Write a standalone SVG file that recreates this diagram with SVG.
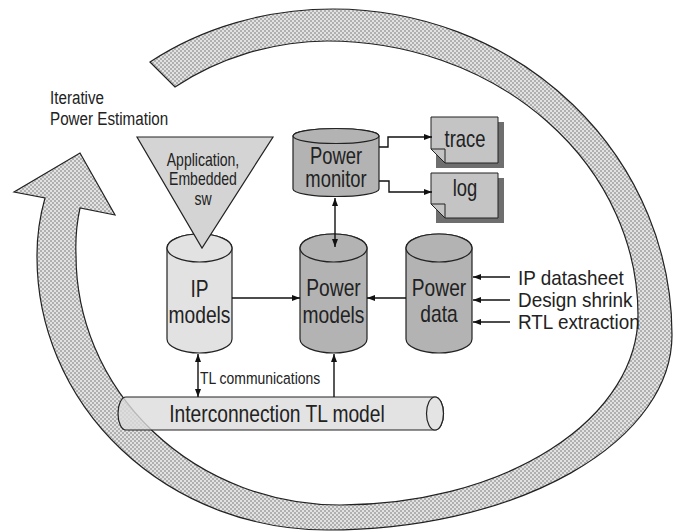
<svg xmlns="http://www.w3.org/2000/svg" width="678" height="531" viewBox="0 0 678 531">
<defs>
<pattern id="chk" width="4" height="4" patternUnits="userSpaceOnUse">
<rect width="4" height="4" fill="#b0b0b0"/>
<rect width="2" height="2" fill="#e2e2e2"/>
<rect x="2" y="2" width="2" height="2" fill="#e2e2e2"/>
</pattern>
<marker id="ah" viewBox="0 0 8 6" refX="8" refY="3" markerWidth="8" markerHeight="6" markerUnits="userSpaceOnUse" orient="auto-start-reverse">
<path d="M0,0 L8,3 L0,6 z" fill="#111"/>
</marker>
</defs>
<style>
.t{font-family:"Liberation Sans",Arial,sans-serif;fill:#222;}
.ln{fill:none;stroke:#111;stroke-width:1.4;}
.cyl{stroke:#222;stroke-width:1.2;}
.dark{fill:#b3b3b3;}
.light{fill:#e2e2e2;}
.doc{fill:#c4c4c4;stroke:#222;stroke-width:1;}
.shadow{fill:#6e6e6e;}
</style>

<g id="loop">
<path d="M150,62 A296 248 0 0 1 333,9 A339 326 0 0 1 672,335 A345 195 0 0 1 327,530 A290 273 0 0 1 37,257 A296 248 0 0 1 45,198 L14,192 L80,153 L115,215 L80,208 A251 214 0 0 0 76,255 A264 250 0 0 0 340,505 A298 190 0 0 0 638,315 A311 274 0 0 0 327,41 A251 214 0 0 0 175,87 Z" fill="url(#chk)" stroke="#222" stroke-width="1.2"/>
<text class="t" font-size="19" transform="translate(50,104) scale(0.8,1)">Iterative</text>
<text class="t" font-size="19" transform="translate(50,125) scale(0.8,1)">Power Estimation</text>
</g>

<g id="interconnection">
<path class="cyl" d="M126,397 L435,397 A8.5 16.5 0 0 1 435,430 L126,430 A8 16.5 0 0 1 126,397 Z" fill="#dcdcdc" fill-opacity="0.8"/>
<ellipse class="cyl" cx="435" cy="413.5" rx="8.5" ry="16.5" fill="#e4e4e4" fill-opacity="0.8"/>
<text class="t" font-size="24" text-anchor="middle" transform="translate(277,422) scale(0.8,1)">Interconnection TL model</text>
</g>

<g id="ip-models">
<path class="cyl light" d="M167,248 L167,339 A32.5 14 0 0 0 232,339 L232,248 A32.5 14 0 0 0 167,248 Z"/>
<ellipse class="cyl light" cx="199.5" cy="248" rx="32.5" ry="14"/>
<text class="t" font-size="24" text-anchor="middle" transform="translate(199.5,297) scale(0.8,1)">IP</text>
<text class="t" font-size="24" text-anchor="middle" transform="translate(199.5,323) scale(0.8,1)">models</text>
</g>

<g id="application">
<polygon points="137,137 273,137 202,248" fill="#d4d4d4" stroke="#222" stroke-width="1.2"/>
<text class="t" font-size="18" text-anchor="middle" transform="translate(203,166) scale(0.78,1)">Application,</text>
<text class="t" font-size="18" text-anchor="middle" transform="translate(203,185) scale(0.78,1)">Embedded</text>
<text class="t" font-size="18" text-anchor="middle" transform="translate(203,205) scale(0.78,1)">sw</text>
</g>

<g id="power-models">
<path class="cyl dark" d="M300,248 L300,339 A33.5 14 0 0 0 367,339 L367,248 A33.5 14 0 0 0 300,248 Z"/>
<ellipse class="cyl dark" cx="333.5" cy="248" rx="33.5" ry="14"/>
<text class="t" font-size="24" text-anchor="middle" transform="translate(333.5,296) scale(0.8,1)">Power</text>
<text class="t" font-size="24" text-anchor="middle" transform="translate(333.5,323) scale(0.8,1)">models</text>
</g>

<g id="power-data">
<path class="cyl dark" d="M406,248 L406,339 A33 14 0 0 0 472,339 L472,248 A33 14 0 0 0 406,248 Z"/>
<ellipse class="cyl dark" cx="439" cy="248" rx="33" ry="14"/>
<text class="t" font-size="24" text-anchor="middle" transform="translate(439,296) scale(0.8,1)">Power</text>
<text class="t" font-size="24" text-anchor="middle" transform="translate(439,322) scale(0.8,1)">data</text>
</g>

<g id="power-monitor">
<path class="cyl dark" d="M293,136 L293,189 A43 7.5 0 0 0 379,189 L379,136 A43 7.5 0 0 0 293,136 Z"/>
<ellipse class="cyl dark" cx="336" cy="136" rx="43" ry="7.5"/>
<text class="t" font-size="23" text-anchor="middle" transform="translate(336,164) scale(0.8,1)">Power</text>
<text class="t" font-size="23" text-anchor="middle" transform="translate(336,187) scale(0.8,1)">monitor</text>
</g>

<g id="trace">
<rect class="shadow" x="436" y="122" width="68" height="46"/>
<path class="doc" d="M431,117 H498 V163 H445 L431,149 Z"/>
<path d="M445,163 V149 H431" fill="none" stroke="#222" stroke-width="1"/>
<text class="t" font-size="23" text-anchor="middle" transform="translate(465,147) scale(0.8,1)">trace</text>
</g>

<g id="log">
<rect class="shadow" x="436" y="178" width="68" height="45"/>
<path class="doc" d="M431,173 H498 V218 H445 L431,204 Z"/>
<path d="M445,218 V204 H431" fill="none" stroke="#222" stroke-width="1"/>
<text class="t" font-size="23" text-anchor="middle" transform="translate(465,196) scale(0.8,1)">log</text>
</g>

<g id="inputs">
<text class="t" font-size="21" transform="translate(518,285) scale(0.9,1)">IP datasheet</text>
<text class="t" font-size="21" transform="translate(518,307) scale(0.9,1)">Design shrink</text>
<text class="t" font-size="21" transform="translate(518,329) scale(0.9,1)">RTL extraction</text>
</g>

<g id="connectors">
<line class="ln" x1="232" y1="298" x2="300" y2="298" marker-end="url(#ah)"/>
<line class="ln" x1="406" y1="298" x2="367" y2="298" marker-end="url(#ah)"/>
<line class="ln" x1="335" y1="198" x2="335" y2="247" marker-start="url(#ah)" marker-end="url(#ah)"/>
<path class="ln" d="M379,147 H388 V137 H432" marker-end="url(#ah)"/>
<path class="ln" d="M379,181 H389 V192 H432" marker-end="url(#ah)"/>
<line class="ln" x1="198" y1="354" x2="198" y2="397" marker-start="url(#ah)" marker-end="url(#ah)"/>
<line class="ln" x1="334" y1="397" x2="334" y2="354" marker-end="url(#ah)"/>
<line class="ln" x1="510" y1="277" x2="473" y2="277" marker-end="url(#ah)"/>
<line class="ln" x1="510" y1="300" x2="473" y2="300" marker-end="url(#ah)"/>
<line class="ln" x1="510" y1="322" x2="473" y2="322" marker-end="url(#ah)"/>
<text class="t" font-size="17" transform="translate(200,384) scale(0.82,1)">TL communications</text>
</g>
</svg>
